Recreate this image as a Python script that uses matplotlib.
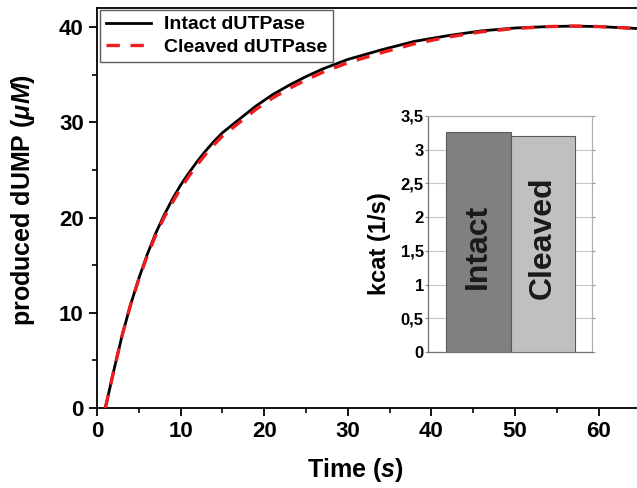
import matplotlib
matplotlib.use("Agg")
import matplotlib.pyplot as plt
from matplotlib.ticker import MultipleLocator, FixedLocator, FixedFormatter

FAM = ['Liberation Sans', 'DejaVu Sans']
plt.rcParams['font.family'] = FAM
plt.rcParams['mathtext.fontset'] = 'custom'
plt.rcParams['mathtext.rm'] = 'Liberation Sans:bold'
plt.rcParams['mathtext.it'] = 'Liberation Sans:bold:italic'
plt.rcParams['mathtext.bf'] = 'Liberation Sans:bold'

# ---- data ----
time_s = [1, 2, 3, 4, 5, 6, 7, 8, 9, 10, 11, 12, 13, 14, 15, 17, 19, 21, 23, 25,
          27, 30, 34, 38, 42, 46, 50, 54, 57, 60, 64.6]
intact = [0, 3.9, 7.6, 10.8, 13.6, 16.1, 18.3, 20.2, 21.9, 23.4, 24.7, 25.9, 27.0,
          28.0, 28.9, 30.3, 31.7, 32.9, 33.9, 34.8, 35.6, 36.6, 37.6, 38.5, 39.1,
          39.6, 39.9, 40.05, 40.1, 40.05, 39.85]
cleaved = [0, 3.9, 7.6, 10.8, 13.5, 15.95, 18.1, 19.95, 21.55, 23.05, 24.35, 25.55,
           26.65, 27.65, 28.55, 29.95, 31.35, 32.55, 33.55, 34.45, 35.25, 36.25,
           37.3, 38.25, 38.95, 39.5, 39.85, 40.05, 40.1, 40.05, 39.85]

kcat_labels = ['Intact', 'Cleaved']
kcat_values = [3.27, 3.21]
kcat_ticks = [0, 0.5, 1, 1.5, 2, 2.5, 3, 3.5]
kcat_ticklabels = ['0', '0,5', '1', '1,5', '2', '2,5', '3', '3,5']

fig = plt.figure(figsize=(6.37, 4.88), dpi=100)
ax = fig.add_axes([97/637, 1-408/488, 1-97/637, 400/488])

ax.plot(time_s, intact, color='black', lw=2.0, label='Intact dUTPase', zorder=3)
ax.plot(time_s, cleaved, color='#ee1c1c', lw=2.4, ls=(0, (4, 3.2)),
        label='Cleaved dUTPase', zorder=4)

ax.set_xlim(0, 64.6)
ax.set_ylim(0, 42)
ax.xaxis.set_major_locator(MultipleLocator(10))
ax.xaxis.set_minor_locator(MultipleLocator(5))
ax.yaxis.set_major_locator(MultipleLocator(10))
ax.yaxis.set_minor_locator(MultipleLocator(5))
ax.spines['right'].set_visible(False)
for s in ['left', 'bottom', 'top']:
    ax.spines[s].set_linewidth(1.3)
ax.tick_params(which='major', direction='out', length=6, width=1.3,
               labelsize=16)
ax.tick_params(which='minor', direction='out', length=3.5, width=1.2)
for lab in ax.get_xticklabels() + ax.get_yticklabels():
    lab.set_fontweight('bold')

ax.set_xlabel(r'Time $\mathit{(s)}$', fontsize=18, fontweight='bold')
ax.set_ylabel(r'produced dUMP $\mathit{(μM)}$', fontsize=18, fontweight='bold')
ax.xaxis.set_label_coords((355-97)/540, -(456-408)/400)
ax.yaxis.set_label_coords(-(97-37)/540, 0.52)

leg = ax.legend(loc='upper left', bbox_to_anchor=(0.006, 0.995),
                prop={'weight': 'bold', 'size': 14}, frameon=True, fancybox=False,
                edgecolor='#333333', handlelength=2.3, borderpad=0.3,
                labelspacing=0.25, handletextpad=0.7, borderaxespad=0.0)
leg.get_frame().set_linewidth(1.0)

# ---- inset ----
ins = fig.add_axes([428/637, 1-352/488, 164/637, 236/488])
xpos = list(range(len(kcat_values)))
ins.bar(xpos, kcat_values, width=1.0, color=['#808080', '#c0c0c0'],
        edgecolor='#5a5a5a', linewidth=0.8, zorder=3)
ins.set_xlim(-0.777, 1.76)
ins.set_ylim(0, 3.5)
ins.yaxis.set_major_locator(FixedLocator(kcat_ticks))
ins.yaxis.set_major_formatter(FixedFormatter(kcat_ticklabels))
ins.set_xticks([])
ins.grid(axis='y', color='#c8c8c8', lw=0.8, zorder=0)
ins.spines['left'].set_color('#707070')
ins.spines['bottom'].set_color('#707070')
ins.spines['right'].set_color('#b0b0b0')
ins.spines['top'].set_color('#b0b0b0')
for s in ins.spines.values():
    s.set_linewidth(0.9)
ins.tick_params(axis='y', direction='out', length=2, width=0.8, color='#909090',
                labelsize=12, pad=1, right=True)
for lab in ins.get_yticklabels():
    lab.set_fontweight('bold')
ins.set_ylabel('kcat (1/s)', fontsize=17, fontweight='bold')
ins.yaxis.set_label_coords(-(428-391)/164, 0.46)
label_y = [1.57, 1.7]
for x, yv, lbl in zip(xpos, label_y, kcat_labels):
    ins.text(x, yv, lbl, rotation=90, ha='center', va='center', fontsize=23,
             fontweight='bold', color='#1a1a1a', zorder=4)

fig.savefig('out.png', dpi=100)
